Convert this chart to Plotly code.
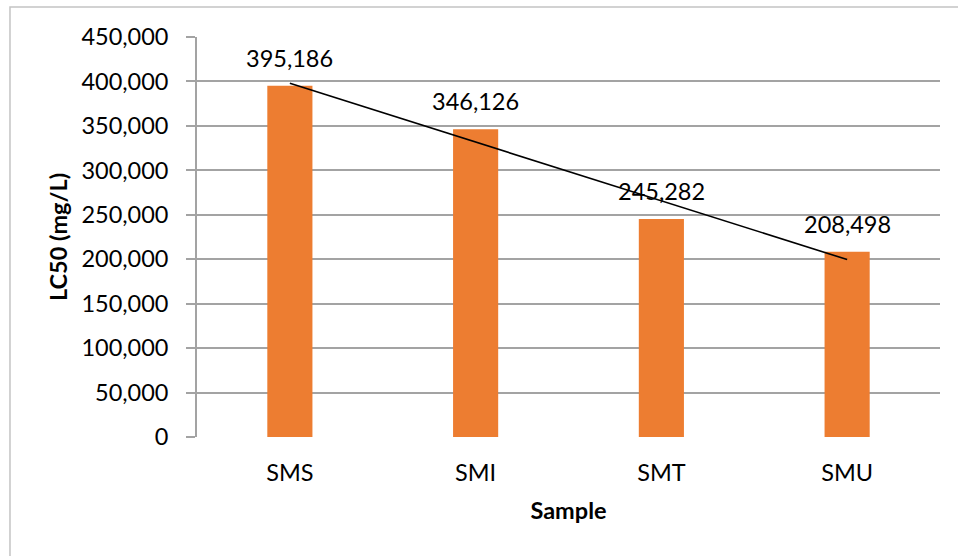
import numpy as np
import plotly.graph_objects as go

# Sample categories and LC50 values (mg/L)
samples = ["SMS", "SMI", "SMT", "SMU"]
lc50 = [395.186, 346.126, 245.282, 208.498]

# Y-axis ticks (comma used as decimal separator)
y_ticks = [0, 50, 100, 150, 200, 250, 300, 350, 400, 450]
y_tick_labels = ["0", "50,000", "100,000", "150,000", "200,000", "250,000",
                 "300,000", "350,000", "400,000", "450,000"]

FONT = "Lato"
GRID = "#a3a3a3"
TXT = 23.5

# Linear trendline fitted over the category index
idx = np.arange(1, len(lc50) + 1)
slope, intercept = np.polyfit(idx, lc50, 1)
trend = slope * idx + intercept

fig = go.Figure()
fig.add_trace(go.Bar(
    x=samples, y=lc50,
    marker=dict(color="#ED7D31", line=dict(width=0)),
    hoverinfo="x+y",
))
fig.add_trace(go.Scatter(
    x=samples, y=trend, mode="lines",
    line=dict(color="black", width=1.6),
    hoverinfo="skip",
))

for s, v in zip(samples, lc50):
    fig.add_annotation(
        x=s, y=v, text=f"{v:.3f}".replace(".", ","),
        showarrow=False, yanchor="bottom", yshift=12,
        font=dict(family=FONT, size=TXT, color="#000000"),
    )

# Chart-area border
fig.add_shape(
    type="rect", xref="paper", yref="paper",
    x0=-0.2517, x1=1.05, y0=-0.34, y1=1.075,
    line=dict(color="#c4c4c4", width=1.5), fillcolor="rgba(0,0,0,0)",
    layer="below",
)

fig.update_layout(
    width=958, height=556,
    margin=dict(l=197, r=18, t=37, b=119),
    paper_bgcolor="white", plot_bgcolor="white",
    showlegend=False,
    bargap=0.757,
    font=dict(family=FONT, size=TXT, color="#000000"),
    xaxis=dict(
        title=dict(text="<b>Sample</b>", font=dict(family=FONT, size=TXT), standoff=18),
        showgrid=False, showline=False, ticks="",
        ticklabelstandoff=19,
        tickfont=dict(family=FONT, size=TXT),
    ),
    yaxis=dict(
        title=dict(text="<b>LC50 (mg/L)</b>", font=dict(family=FONT, size=TXT), standoff=7),
        range=[0, 450], tickvals=y_ticks, ticktext=y_tick_labels,
        showgrid=True, gridcolor=GRID, gridwidth=1.6,
        showline=True, linecolor=GRID, linewidth=1.6,
        ticks="outside", ticklen=9, tickcolor=GRID, tickwidth=1.6,
        ticklabelstandoff=13,
        tickfont=dict(family=FONT, size=TXT),
        zeroline=False,
    ),
)

fig.write_html("out.html")
